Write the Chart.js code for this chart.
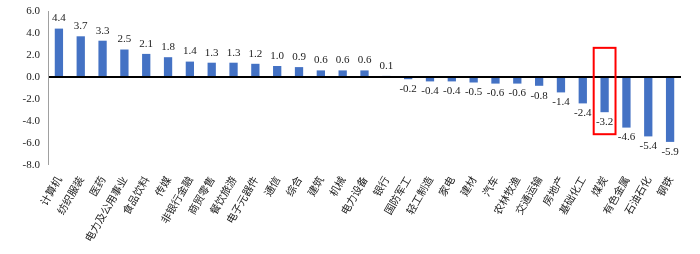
<!DOCTYPE html>
<html><head><meta charset="utf-8">
<script src="https://cdn.jsdelivr.net/npm/chart.js@4"></script>
<style>html,body{margin:0;padding:0;background:#fff;}#wrap{width:700px;height:254px;}</style>
</head><body><div id="wrap"><canvas id="c" width="700" height="254"></canvas></div>
<script>
const categories = ['计算机','纺织服装','医药','电力及公用事业','食品饮料','传媒','非银行金融','商贸零售','餐饮旅游','电子元器件','通信','综合','建筑','机械','电力设备','银行','国防军工','轻工制造','家电','建材','汽车','农林牧渔','交通运输','房地产','基础化工','煤炭','有色金属','石油石化','钢铁'];
const values = [4.4,3.7,3.3,2.5,2.1,1.8,1.4,1.3,1.3,1.2,1.0,0.9,0.6,0.6,0.6,0.1,-0.2,-0.4,-0.4,-0.5,-0.6,-0.6,-0.8,-1.4,-2.4,-3.2,-4.6,-5.4,-5.9];
const yTicks = [6,4,2,0,-2,-4,-6,-8];
const highlighted = '煤炭';

const serif = '"Liberation Serif","Times New Roman",serif';
const cjk = '"Noto Sans CJK SC",sans-serif';

const labelPlugin = {
  id: 'labels',
  afterDatasetsDraw(chart) {
    const ctx = chart.ctx;
    const meta = chart.getDatasetMeta(0);
    ctx.save();
    ctx.font = '11px ' + serif;
    ctx.fillStyle = '#222';
    ctx.textAlign = 'center';
    ctx.textBaseline = 'middle';
    meta.data.forEach((bar, i) => {
      const v = values[i];
      const y = v >= 0 ? bar.y - 10 : bar.y + 10;
      ctx.fillText(v.toFixed(1), bar.x, y);
    });
    const idx = categories.indexOf(highlighted);
    const b = meta.data[idx];
    const xs = chart.scales.x, ys = chart.scales.y;
    const half = (xs.getPixelForValue(1) - xs.getPixelForValue(0)) / 2;
    const top = ys.getPixelForValue(2.65);
    const bot = ys.getPixelForValue(-5.2);
    ctx.strokeStyle = '#ff0000';
    ctx.lineWidth = 2;
    ctx.strokeRect(b.x - half, top, half * 2, bot - top);
    ctx.restore();
  }
};

new Chart(document.getElementById('c'), {
  type: 'bar',
  data: { labels: categories, datasets: [{ data: values, backgroundColor: '#4472c4', barPercentage: 0.38, categoryPercentage: 1 }] },
  options: {
    responsive: false,
    animation: false,
    devicePixelRatio: 1,
    layout: { padding: { left: 0, right: 19, top: 11, bottom: 0 } },
    plugins: { legend: { display: false }, tooltip: { enabled: false } },
    scales: {
      x: {
        grid: { display: false, drawTicks: false },
        border: { display: false },
        ticks: { maxRotation: 60, minRotation: 60, autoSkip: false, padding: 9, color: '#222', font: { family: cjk, size: 10.5 } },
        afterFit(s) { s.height = 89; s.paddingLeft = 0; s.paddingRight = 0; }
      },
      y: {
        min: -8, max: 6,
        afterBuildTicks(s) { s.ticks = yTicks.map(v => ({ value: v })); },
        grid: { drawTicks: false, lineWidth: c => c.tick && c.tick.value === 0 ? 2 : 0, color: c => c.tick && c.tick.value === 0 ? '#000' : 'rgba(0,0,0,0)' },
        border: { display: true, color: '#a0a0a0', width: 1 },
        ticks: { padding: 8, color: '#222', font: { family: serif, size: 11 }, callback: v => Number(v).toFixed(1) },
        afterFit(s) { s.width = 48; s.paddingTop = 0; s.paddingBottom = 0; }
      }
    }
  },
  plugins: [labelPlugin]
});
</script></body></html>
